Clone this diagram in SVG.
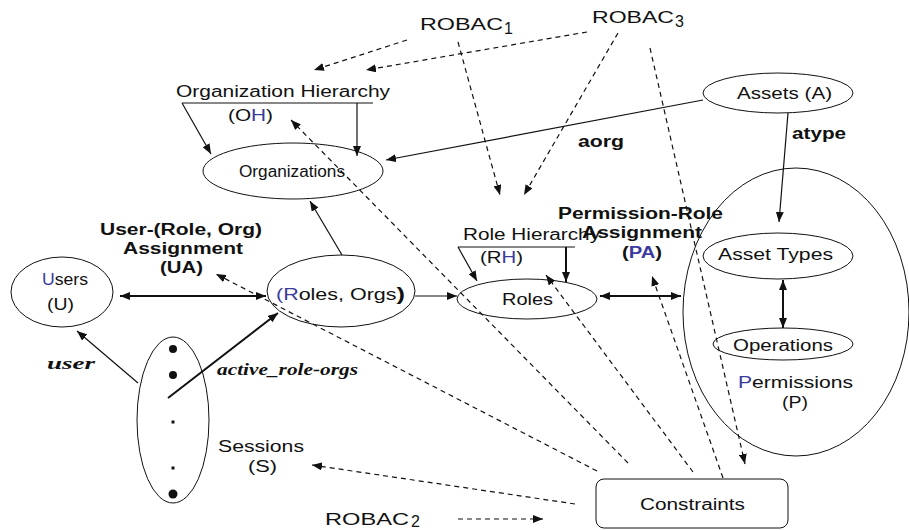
<svg xmlns="http://www.w3.org/2000/svg" width="909" height="531" viewBox="0 0 909 531">
<style>
text{font-family:"Liberation Sans",Arial,sans-serif;fill:#111;font-size:16px}
.b{font-weight:bold}
.blue{fill:#3b3b9e}
.it{font-family:"Liberation Serif","Times New Roman",serif;font-weight:bold;font-style:italic}
.sh{fill:none;stroke:#111;stroke-width:1}
.ln{fill:none;stroke:#111;stroke-width:1.2}
.th{fill:none;stroke:#111;stroke-width:2}
.ds{fill:none;stroke:#111;stroke-width:1.2;stroke-dasharray:5 4}
</style>
<defs>
<marker id="a" viewBox="0 0 10 8" refX="10" refY="4" markerWidth="10" markerHeight="8" markerUnits="userSpaceOnUse" orient="auto-start-reverse">
<path d="M0,0 L10,4 L0,8 Z" fill="#111"/>
</marker>
</defs>

<g id="robac1"><text x="420" y="30" font-size="18" textLength="83" lengthAdjust="spacingAndGlyphs">ROBAC</text><text x="504" y="34" font-size="11">1</text></g>
<g id="robac3"><text x="592" y="23" font-size="18" textLength="82" lengthAdjust="spacingAndGlyphs">ROBAC</text><text x="675" y="27" font-size="11">3</text></g>
<g id="robac2"><text x="325" y="525" font-size="18" textLength="84" lengthAdjust="spacingAndGlyphs">ROBAC</text><text x="411" y="527" font-size="10">2</text></g>

<g id="oh">
<text x="176" y="97" textLength="214" lengthAdjust="spacingAndGlyphs">Organization Hierarchy</text>
<text x="228" y="121" textLength="45" lengthAdjust="spacingAndGlyphs">(O<tspan class="blue">H</tspan>)</text>
<path class="sh" d="M182,103 H373"/>
</g>
<g id="organizations">
<ellipse class="sh" cx="293" cy="171" rx="90" ry="28"/>
<text x="239" y="177" font-size="13" textLength="106" lengthAdjust="spacingAndGlyphs">Organizations</text>
</g>
<g id="assets">
<ellipse class="sh" cx="778" cy="93" rx="75" ry="20"/>
<text x="737" y="99" textLength="95" lengthAdjust="spacingAndGlyphs">Assets (A)</text>
</g>
<g id="permissions">
<ellipse class="sh" cx="796" cy="312" rx="113" ry="144"/>
<text x="738" y="388" textLength="115" lengthAdjust="spacingAndGlyphs"><tspan class="blue">P</tspan>ermissions</text>
<text x="782" y="408" textLength="26" lengthAdjust="spacingAndGlyphs">(P)</text>
</g>
<g id="assettypes">
<ellipse class="sh" cx="778" cy="256" rx="75" ry="23"/>
<text x="718" y="260" textLength="115" lengthAdjust="spacingAndGlyphs">Asset Types</text>
</g>
<g id="operations">
<ellipse class="sh" cx="783" cy="344" rx="70" ry="16"/>
<text x="733" y="351" textLength="100" lengthAdjust="spacingAndGlyphs">Operations</text>
</g>
<g id="rh">
<text x="463" y="240" textLength="137" lengthAdjust="spacingAndGlyphs">Role Hierarchy</text>
<text x="480" y="263" textLength="43" lengthAdjust="spacingAndGlyphs">(R<tspan class="blue">H</tspan>)</text>
<path class="sh" d="M458,247 H575"/>
</g>
<g id="roles">
<ellipse class="sh" cx="527" cy="299" rx="70" ry="20"/>
<text x="502" y="305" textLength="51" lengthAdjust="spacingAndGlyphs">Roles</text>
</g>
<g id="pa">
<text class="b" x="558" y="219" textLength="165" lengthAdjust="spacingAndGlyphs">Permission-Role</text>
<text class="b" x="582" y="238" textLength="120" lengthAdjust="spacingAndGlyphs">Assignment</text>
<text class="b" x="622" y="258" textLength="40" lengthAdjust="spacingAndGlyphs">(<tspan class="blue">PA</tspan>)</text>
</g>
<g id="ua">
<text class="b" x="100" y="235" textLength="162" lengthAdjust="spacingAndGlyphs">User-(Role, Org)</text>
<text class="b" x="123" y="254" textLength="120" lengthAdjust="spacingAndGlyphs">Assignment</text>
<text class="b" x="160" y="273" textLength="43" lengthAdjust="spacingAndGlyphs">(UA)</text>
</g>
<g id="users">
<ellipse class="sh" cx="62" cy="292" rx="51" ry="35"/>
<text x="42" y="285" textLength="46" lengthAdjust="spacingAndGlyphs"><tspan class="blue">U</tspan>sers</text>
<text x="47" y="310" textLength="27" lengthAdjust="spacingAndGlyphs">(U)</text>
</g>
<g id="rolesorgs">
<ellipse class="sh" cx="341" cy="291" rx="74" ry="36"/>
<text x="276" y="300" textLength="129" lengthAdjust="spacingAndGlyphs"><tspan class="blue">(R</tspan>oles, Orgs<tspan font-size="19" font-weight="bold">)</tspan></text>
</g>
<g id="sessions">
<ellipse class="sh" cx="173" cy="420" rx="36" ry="83"/>
<circle cx="173" cy="349" r="4" fill="#111"/>
<circle cx="173" cy="375" r="4" fill="#111"/>
<rect x="171.5" y="420.5" width="3" height="3" fill="#111"/>
<rect x="171.5" y="466.5" width="3" height="3" fill="#111"/>
<circle cx="173" cy="494" r="4.5" fill="#111"/>
<text x="218" y="452" textLength="86" lengthAdjust="spacingAndGlyphs">Sessions</text>
<text x="248" y="472" textLength="29" lengthAdjust="spacingAndGlyphs">(S)</text>
</g>
<g id="constraints">
<rect class="sh" x="596" y="479" width="192" height="49" rx="8"/>
<text x="640" y="510" textLength="105" lengthAdjust="spacingAndGlyphs">Constraints</text>
</g>

<g id="connectors">
<path class="ln" d="M182,103 L211,154" marker-end="url(#a)"/>
<path class="ln" d="M357,103 V156" marker-end="url(#a)"/>
<path class="ln" d="M703,100 L386,160" marker-end="url(#a)"/>
<path class="ln" d="M788,113 L779,222" marker-end="url(#a)"/>
<path class="ln" d="M342,255 L310,201" marker-end="url(#a)"/>
<path class="th" d="M120,296 H266" marker-start="url(#a)" marker-end="url(#a)"/>
<path class="ln" d="M415,296 H457" marker-end="url(#a)"/>
<path class="ln" d="M458,247 L477,281" marker-end="url(#a)"/>
<path class="th" d="M566,247 V282" marker-end="url(#a)"/>
<path class="th" d="M600,296 H681" marker-start="url(#a)" marker-end="url(#a)"/>
<path class="th" d="M783,280 V328" marker-start="url(#a)" marker-end="url(#a)"/>
<path class="ln" d="M138,383 L77,331" marker-end="url(#a)"/>
<path class="th" d="M168,398 L278,313" marker-end="url(#a)"/>
<text class="it" x="47" y="369" font-size="18" textLength="48" lengthAdjust="spacingAndGlyphs">user</text>
<text class="it" x="217" y="375" font-size="14" textLength="141" lengthAdjust="spacingAndGlyphs">active_role-orgs</text>
<text class="b" x="578" y="147" textLength="46" lengthAdjust="spacingAndGlyphs">aorg</text>
<text class="b" x="792" y="139" textLength="54" lengthAdjust="spacingAndGlyphs">atype</text>

<path class="ds" d="M407,40 L314,70" marker-end="url(#a)"/>
<path class="ds" d="M587,32 L366,70" marker-end="url(#a)"/>
<path class="ds" d="M458,42 L500,195" marker-end="url(#a)"/>
<path class="ds" d="M618,33 L524,195" marker-end="url(#a)"/>
<path class="ds" d="M650,48 L745,464" marker-end="url(#a)"/>
<path class="ds" d="M628,463 L291,120" marker-end="url(#a)"/>
<path class="ds" d="M597,471 L216,274" marker-end="url(#a)"/>
<path class="ds" d="M693,472 L546,275" marker-end="url(#a)"/>
<path class="ds" d="M723,478 L652,276" marker-end="url(#a)"/>
<path class="ds" d="M575,504 L312,465" marker-end="url(#a)"/>
<path class="ds" d="M458,519 L543,519" marker-end="url(#a)"/>
</g>
</svg>
